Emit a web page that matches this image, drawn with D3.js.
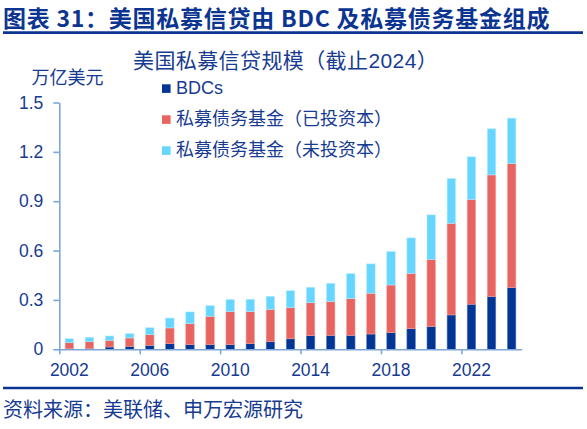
<!DOCTYPE html>
<html>
<head>
<meta charset="utf-8">
<script src="https://cdn.jsdelivr.net/npm/d3@7"></script>
<style>
  body { margin: 0; background: #fff; }
  svg { display: block; }
  text { font-family: "Liberation Sans", Arial, "Noto Sans CJK SC", sans-serif; }
</style>
</head>
<body>
<div id="chart"></div>
<script>
// data (trillion USD)
const years = d3.range(2002, 2025).map(String);
const bdcs = [0.003, 0.005, 0.014, 0.018, 0.024, 0.034, 0.028, 0.028, 0.028, 0.034, 0.046, 0.064,
    0.083, 0.085, 0.085, 0.093, 0.101, 0.125, 0.138, 0.209, 0.274, 0.320, 0.375];
const deployed = [0.037, 0.041, 0.041, 0.051, 0.065, 0.096, 0.128, 0.173, 0.201, 0.195, 0.197, 0.189,
    0.200, 0.205, 0.223, 0.248, 0.290, 0.337, 0.409, 0.557, 0.636, 0.740, 0.754];
const dryPowder = [0.024, 0.027, 0.026, 0.026, 0.042, 0.060, 0.071, 0.064, 0.073, 0.075, 0.079, 0.103,
    0.094, 0.111, 0.152, 0.178, 0.203, 0.215, 0.270, 0.272, 0.260, 0.280, 0.276];
const yTicks = [0, 0.3, 0.6, 0.9, 1.2, 1.5];
const xLabelYears = ["2002", "2006", "2010", "2014", "2018", "2022"];
const seriesKeys = ["bdc", "deployed", "dry"];
const seriesNames = ["BDCs", "私募债务基金（已投资本）", "私募债务基金（未投资本）"];
const seriesColors = ["#003594", "#e76461", "#66d5ff"];
const seriesEdges = ["#5a7cc0", "#f2a3a1", "#b5ebff"];

const width = 587, height = 429;
const textColor = "#173b91",
    axisColor = "#7ea7d8",
    cjk = "\"Noto Sans CJK SC\", sans-serif",
    latin = "\"Liberation Sans\", Arial, \"Noto Sans CJK SC\", sans-serif";

const plot = {left: 59.3, right: 521.7, top: 102.5, bottom: 349.3};

const svg = d3.select("#chart").append("svg")
    .attr("width", width)
    .attr("height", height);

// header
svg.append("text")
    .attr("x", 3)
    .attr("y", 27)
    .attr("fill", "#0c3491")
    .attr("font-size", 23)
    .attr("font-weight", "bold")
    .attr("letter-spacing", 0.75)
    .style("font-family", cjk)
    .text("图表 31：美国私募信贷由 BDC 及私募债务基金组成");

svg.append("line")
    .attr("x1", 3).attr("x2", 583)
    .attr("y1", 32.6).attr("y2", 32.6)
    .attr("stroke", "#0c3491")
    .attr("stroke-width", 2.6);

svg.append("text")
    .attr("x", 133)
    .attr("y", 68)
    .attr("fill", textColor)
    .attr("font-size", 21)
    .attr("letter-spacing", 0.4)
    .style("font-family", latin)
    .text("美国私募信贷规模（截止2024）");

svg.append("text")
    .attr("x", 31.5)
    .attr("y", 84)
    .attr("fill", textColor)
    .attr("font-size", 18)
    .style("font-family", cjk)
    .text("万亿美元");

// scales
const x = d3.scaleBand()
    .domain(years)
    .range([plot.left, plot.right])
    .paddingInner(0.58)
    .paddingOuter(0.29);

const xIdx = d3.scaleLinear()
    .domain([0, years.length])
    .range([plot.left, plot.right]);

const y = d3.scaleLinear()
    .domain([0, 1.5])
    .range([plot.bottom, plot.top]);

// bars
const rows = years.map((yr, i) => ({year: yr, bdc: bdcs[i], deployed: deployed[i], dry: dryPowder[i]}));
const stacked = d3.stack().keys(seriesKeys)(rows);

svg.append("g").selectAll("g")
    .data(stacked)
    .join("g")
    .attr("fill", (d, i) => seriesColors[i])
    .attr("stroke", (d, i) => seriesEdges[i])
    .attr("stroke-width", 0.6)
    .selectAll("rect")
    .data(d => d)
    .join("rect")
    .attr("x", d => x(d.data.year))
    .attr("width", x.bandwidth())
    .attr("y", d => y(d[1]))
    .attr("height", d => y(d[0]) - y(d[1]));

// y axis
const yAxis = svg.append("g")
    .attr("transform", `translate(${plot.left},0)`)
    .call(d3.axisLeft(y).tickValues(yTicks).tickFormat(d3.format("~g"))
        .tickSize(6).tickSizeOuter(0).tickPadding(10));

// x axis: ticks on category boundaries, labels under categories
const xTicks = svg.append("g")
    .attr("transform", `translate(0,${plot.bottom})`)
    .call(d3.axisBottom(xIdx).tickValues(d3.range(0, years.length, 4))
        .tickFormat("").tickSize(5).tickSizeOuter(0));

const xLabels = svg.append("g")
    .attr("transform", `translate(0,${plot.bottom})`)
    .call(d3.axisBottom(x).tickValues(xLabelYears).tickSize(0).tickPadding(14));
xLabels.select(".domain").remove();

[yAxis, xTicks, xLabels].forEach(function (g) {
    g.selectAll(".domain, line")
        .attr("stroke", axisColor)
        .attr("stroke-width", 1.6);
    g.selectAll("text")
        .attr("fill", textColor)
        .attr("font-size", 17.5)
        .style("font-family", latin);
});

// legend
const legend = svg.append("g").selectAll("g")
    .data(seriesNames)
    .join("g")
    .attr("transform", (d, i) => `translate(162,${94.3 + 31 * i})`);

legend.append("rect")
    .attr("x", 0)
    .attr("y", -10)
    .attr("width", 8.6)
    .attr("height", 8.6)
    .attr("fill", (d, i) => seriesColors[i]);

legend.append("text")
    .attr("x", 14)
    .attr("y", 0)
    .attr("fill", textColor)
    .attr("font-size", 18)
    .style("font-family", (d, i) => i === 0 ? latin : cjk)
    .text(d => d);

// footer
svg.append("line")
    .attr("x1", 3).attr("x2", 583)
    .attr("y1", 388).attr("y2", 388)
    .attr("stroke", "#0c3491")
    .attr("stroke-width", 2.6);

svg.append("text")
    .attr("x", 3)
    .attr("y", 417)
    .attr("fill", textColor)
    .attr("font-size", 20)
    .style("font-family", cjk)
    .text("资料来源：美联储、申万宏源研究");
</script>
</body>
</html>
